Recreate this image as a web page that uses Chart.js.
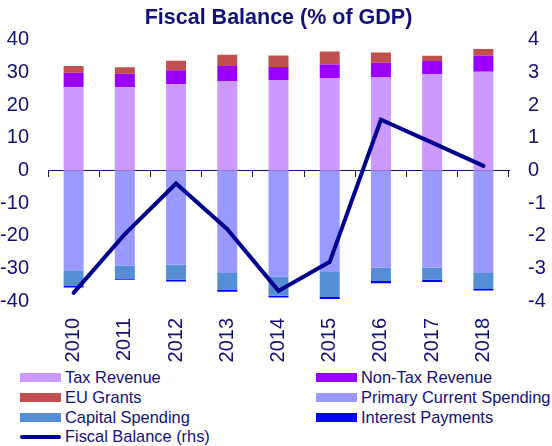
<!DOCTYPE html>
<html>
<head>
<meta charset="utf-8">
<script src="https://cdn.jsdelivr.net/npm/chart.js@4"></script>
<style>
  html, body { margin: 0; padding: 0; background: #ffffff; }
  #wrap { position: relative; width: 552px; height: 446px; overflow: hidden; font-family: "Liberation Sans", Arial, sans-serif; }
  #chartBox { position: absolute; left: 0; top: 0; width: 552px; height: 368px; }
  #legend { position: absolute; left: 0; top: 368px; width: 552px; }
  .row { position: relative; height: 19.7px; }
  .item { position: absolute; top: 0; height: 19.7px; display: flex; align-items: center; color: #10107a; font-size: 16.4px; white-space: nowrap; }
  .sw { width: 41px; height: 9px; margin-right: 4px; }
  .ln { width: 41px; height: 4px; border-radius: 2px; margin-right: 4px; }
</style>
</head>
<body>
<div id="wrap">
  <div id="chartBox"><canvas id="c"></canvas></div>
  <div id="legend"></div>
</div>
<script>
const categories = ['2010','2011','2012','2013','2014','2015','2016','2017','2018'];
const taxRevenue = [25.5, 25.5, 26.4, 27.4, 27.7, 28.3, 28.6, 29.5, 30.2];
const nonTaxRevenue = [4.4, 4.1, 4.3, 4.6, 4.0, 4.1, 4.4, 4.0, 4.9];
const euGrants = [2.1, 2.0, 2.9, 3.4, 3.5, 4.0, 3.1, 1.6, 2.1];
const primaryCurrentSpending = [-30.6, -29.2, -28.9, -31.4, -32.6, -30.9, -29.8, -29.8, -31.4];
const capitalSpending = [-4.8, -3.9, -4.6, -5.1, -5.8, -7.9, -4.1, -3.7, -4.9];
const interestPayments = [-0.5, -0.4, -0.5, -0.7, -0.5, -0.6, -0.7, -0.7, -0.5];
const fiscalBalance = [-3.75, -1.95, -0.4, -1.8, -3.69, -2.8, 1.55, 0.85, 0.14];
const leftTicks = [-40, -30, -20, -10, 0, 10, 20, 30, 40];
const rightTicks = [-4, -3, -2, -1, 0, 1, 2, 3, 4];

const NAVY = '#10107a';
const FONT = '"Liberation Sans", Arial, sans-serif';

function bar(label, data, color) {
  return { type: 'bar', label, data, backgroundColor: color, borderWidth: 0,
           xAxisID: 'x', yAxisID: 'y', stack: 's', barPercentage: 0.39, categoryPercentage: 1.0, order: 1 };
}

const datasets = [
  bar('Tax Revenue', taxRevenue, '#CC99FF'),
  bar('Non-Tax Revenue', nonTaxRevenue, '#9900FF'),
  bar('EU Grants', euGrants, '#C0504D'),
  bar('Primary Current Spending', primaryCurrentSpending, '#9999FF'),
  bar('Capital Spending', capitalSpending, '#558ED5'),
  bar('Interest Payments', interestPayments, '#0000FF'),
  { type: 'line', label: 'Fiscal Balance (rhs)', data: fiscalBalance, borderColor: '#000090',
    backgroundColor: '#000090', borderWidth: 4, pointRadius: 0, tension: 0, fill: false,
    borderCapStyle: 'round', xAxisID: 'x', yAxisID: 'y1', order: 0 }
];

function zeroPad(s) { s.paddingLeft = 0; s.paddingRight = 0; s.paddingTop = 0; s.paddingBottom = 0; }

new Chart(document.getElementById('c'), {
  data: { labels: categories, datasets },
  options: {
    responsive: true, maintainAspectRatio: false, animation: false,
    layout: { padding: { left: 0, right: 6, top: 0, bottom: 5 } },
    plugins: {
      legend: { display: false },
      tooltip: { enabled: false },
      title: { display: true, fullSize: false, text: 'Fiscal Balance (% of GDP)', color: NAVY,
               font: { family: FONT, size: 21.5, weight: 'bold' }, padding: { top: 5, bottom: 9 } }
    },
    scales: {
      x: { type: 'category', position: 'bottom', stacked: true, offset: true,
           grid: { display: false, drawTicks: false, offset: true }, border: { display: false },
           ticks: { color: NAVY, font: { family: FONT, size: 20 }, minRotation: 90, maxRotation: 90, autoSkip: false, padding: 17 },
           afterFit: s => { zeroPad(s); s.height = 62; } },
      x2: { type: 'category', position: { y: 0 }, offset: true,
            grid: { display: true, offset: true, drawOnChartArea: false, drawTicks: true, tickLength: 6, color: NAVY, lineWidth: 1 },
            border: { display: true, color: NAVY, width: 1 },
            ticks: { display: false },
            afterFit: s => { zeroPad(s); } },
      y: { type: 'linear', position: 'left', stacked: true, min: -40, max: 40,
           afterBuildTicks: s => { s.ticks = leftTicks.map(v => ({ value: v })); },
           grid: { display: false, drawTicks: false }, border: { display: false },
           ticks: { color: NAVY, font: { family: FONT, size: 20 }, padding: 19 },
           afterFit: s => { zeroPad(s); s.width = 48; } },
      y1: { type: 'linear', position: 'right', min: -4, max: 4,
           afterBuildTicks: s => { s.ticks = rightTicks.map(v => ({ value: v })); },
           grid: { display: false, drawTicks: false }, border: { display: false },
           ticks: { color: NAVY, font: { family: FONT, size: 20 }, padding: 19 },
           afterFit: s => { zeroPad(s); s.width = 37; } }
    }
  }
});

// HTML legend (two columns, row-major)
const legendItems = datasets.map(d => ({ label: d.label, color: d.type === 'line' ? d.borderColor : d.backgroundColor, line: d.type === 'line' }));
const lg = document.getElementById('legend');
const colX = [[20, 65], [316, 361]];
for (let i = 0; i < legendItems.length; i += 2) {
  const row = document.createElement('div'); row.className = 'row';
  for (let j = 0; j < 2 && i + j < legendItems.length; j++) {
    const it = legendItems[i + j];
    const el = document.createElement('div'); el.className = 'item';
    el.style.left = colX[j][0] + 'px';
    const sw = document.createElement('div'); sw.className = it.line ? 'ln' : 'sw';
    sw.style.background = it.color;
    const tx = document.createElement('span'); tx.textContent = it.label;
    el.appendChild(sw); el.appendChild(tx); row.appendChild(el);
  }
  lg.appendChild(row);
}
</script>
</body>
</html>
